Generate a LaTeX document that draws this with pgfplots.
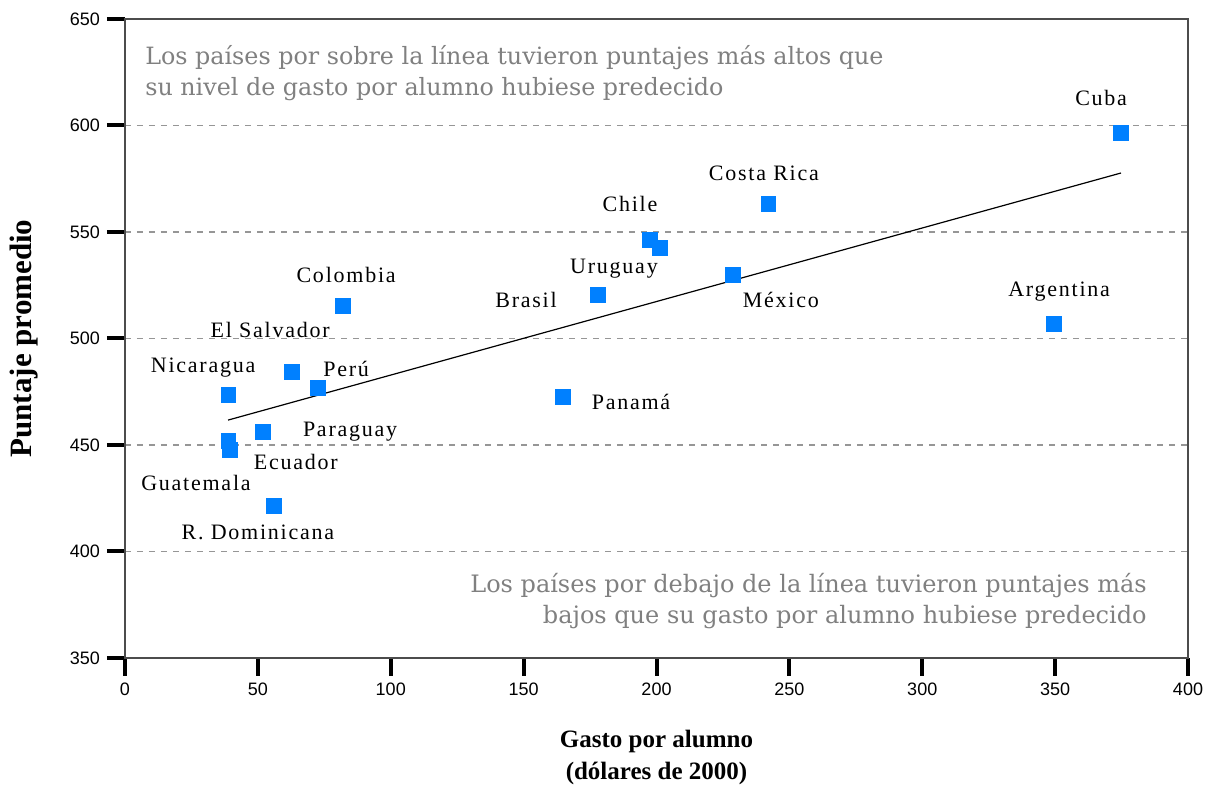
\documentclass[border=0pt]{standalone}
\usepackage{pgfplots}
\pgfplotsset{compat=1.18}
\usepackage{fontspec}
\setmainfont{Liberation Serif}
\newfontfamily\lblfont[LetterSpace=8]{Liberation Serif}
\newfontfamily\annfont{DejaVu Serif}
\newfontfamily\tickfont{Liberation Sans}
\definecolor{ptblue}{RGB}{0,128,255}
\definecolor{anngray}{RGB}{128,128,128}
\definecolor{gridgray}{RGB}{150,150,150}
\begin{document}
\begin{tikzpicture}
\begin{axis}[
  scale only axis,
  width=531.5pt, height=319.5pt,
  xmin=0, xmax=400, ymin=350, ymax=650,
  xtick={0,50,...,400}, ytick={350,400,...,650},
  xtick pos=bottom, ytick pos=left,
  tick align=outside,
  major tick length=9pt,
  tick style={black, line width=2pt},
  axis line style={draw=black!70, line width=0.8pt},
  ymajorgrids, grid style={gridgray, dashed, line width=0.6pt},
  /pgf/number format/assume math mode=true,
  ticklabel style={font=\tickfont\fontsize{9}{10}\selectfont},
  xlabel={Gasto por alumno\\(dólares de 2000)},
  xlabel style={align=center, font=\bfseries\fontsize{12.5}{16}\selectfont, at={(axis description cs:0.5,-0.112)}, anchor=north, inner sep=0pt},
  ylabel={Puntaje promedio},
  ylabel style={font=\bfseries\fontsize{15.5}{17}\selectfont, at={(axis description cs:-0.095,0.5)}, anchor=center, rotate=0, inner sep=0pt},
  clip=false,
]
\addplot[black, line width=0.6pt] coordinates {(38.8,461.7) (374.8,577.7)};
\addplot[only marks, mark=square*, mark size=3.6pt, color=ptblue] coordinates {
(374.8,596.5) (242,563.1) (197.5,546.2) (201.3,542.5) (178,520.4) (228.8,529.8)
(349.6,506.8) (82,515.3) (62.8,484.3) (72.6,476.8) (38.8,473.5) (164.8,472.5)
(51.9,456.1) (38.8,452) (39.5,447.7) (56,421.4)
};
\begin{scope}[every node/.style={font=\lblfont\fontsize{11}{13}\selectfont, inner sep=0pt}]
\node at (axis cs:367.3,612.9) {Cuba};
\node at (axis cs:240.4,577.7) {Costa Rica};
\node at (axis cs:190,563.1) {Chile};
\node at (axis cs:184,532.6) {Uruguay};
\node at (axis cs:150.9,518.1) {Brasil};
\node at (axis cs:246.8,518.1) {México};
\node at (axis cs:351.5,521.8) {Argentina};
\node at (axis cs:83.2,529.8) {Colombia};
\node at (axis cs:54.6,504) {El Salvador};
\node at (axis cs:29.4,486.2) {Nicaragua};
\node at (axis cs:83.2,485.7) {Perú};
\node at (axis cs:190.4,470.2) {Panamá};
\node at (axis cs:84.7,456.1) {Paraguay};
\node at (axis cs:64.3,442) {Ecuador};
\node at (axis cs:26.7,432.2) {Guatemala};
\node at (axis cs:50,409.2) {R. Dominicana};
\end{scope}
\node[anchor=north west, align=left, inner sep=0pt, text=anngray, font=\annfont\fontsize{11.9}{15.5}\selectfont] at (axis cs:7.5,637.6)
  {Los países por sobre la línea tuvieron puntajes más altos que\\su nivel de gasto por alumno hubiese predecido};
\node[anchor=north east, align=right, inner sep=0pt, text=anngray, font=\annfont\fontsize{12}{15.5}\selectfont] at (axis cs:384.6,389.8)
  {Los países por debajo de la línea tuvieron puntajes más\\bajos que su gasto por alumno hubiese predecido};
\end{axis}
\pgfresetboundingbox
\path ([shift={(-62.5pt,-65pt)}]current axis.south west) rectangle ([shift={(8.5pt,9.5pt)}]current axis.north east);
\end{tikzpicture}
\end{document}
